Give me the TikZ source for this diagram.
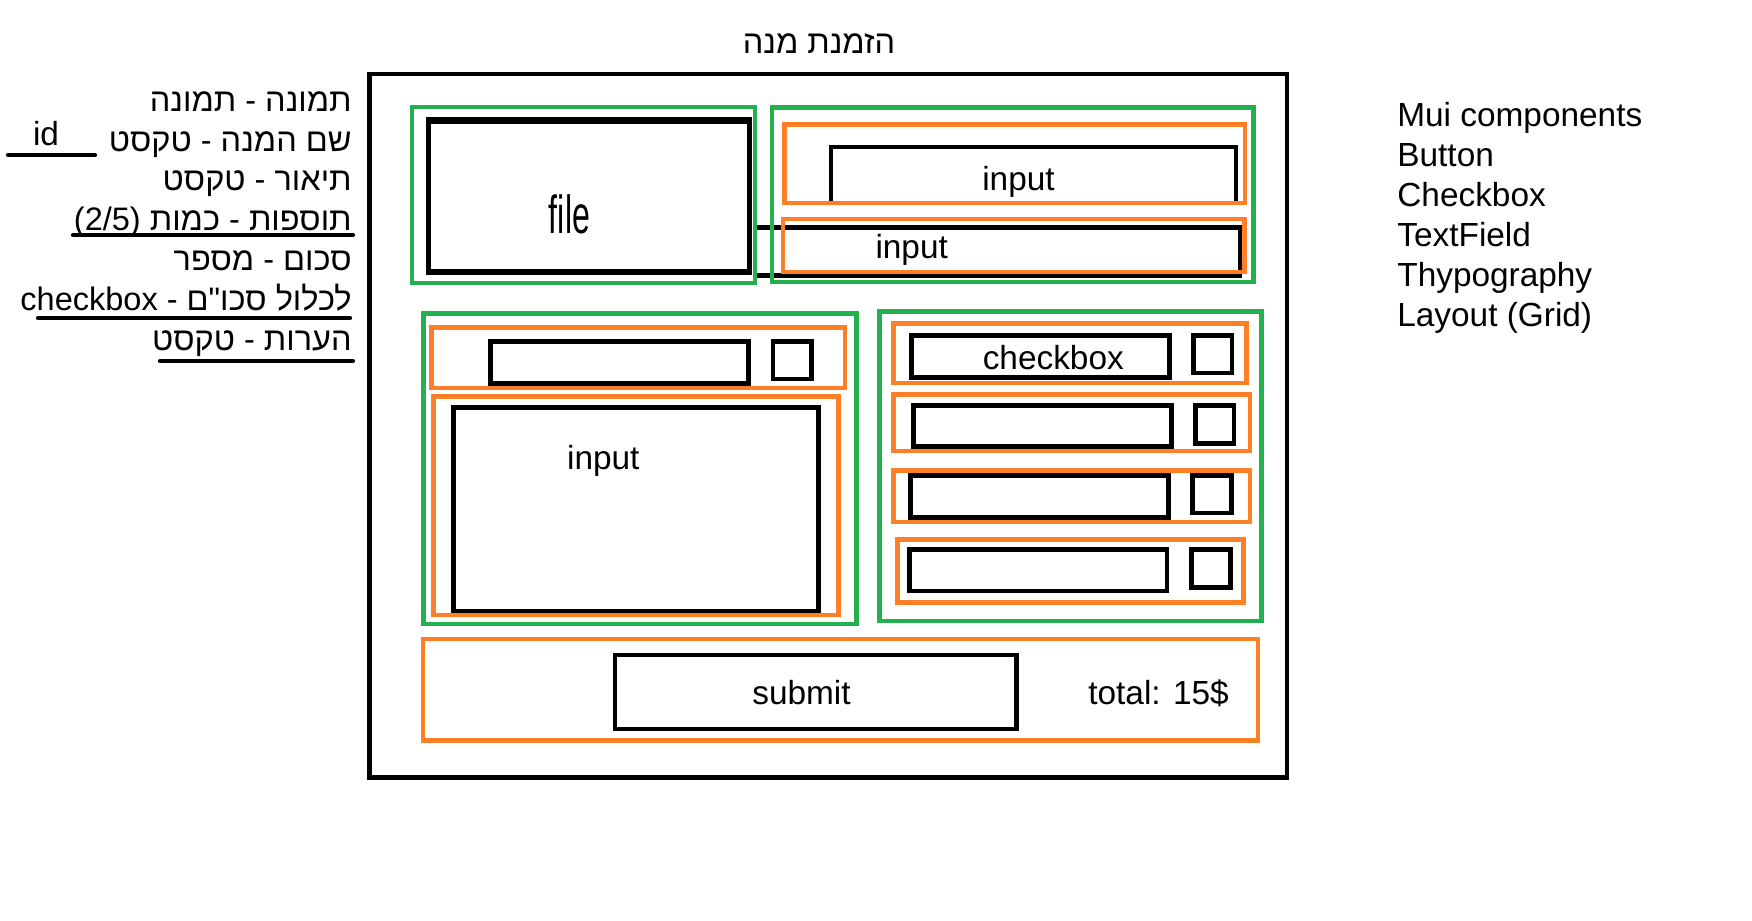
\documentclass[tikz,border=0pt]{standalone}
\usepackage{graphicx}
\usepackage{fontspec}
\setmainfont{Liberation Sans}
\newfontfamily\hebfont[Script=Hebrew]{Liberation Sans}
\TeXXeTstate=1
\definecolor{pgreen}{HTML}{22B14C}
\definecolor{porange}{HTML}{FF7F27}
\tikzset{
  gbox/.style={draw=pgreen, line width=2.67pt},
  obox/.style={draw=porange, line width=2.67pt},
  kbox/.style={draw=black, line width=2.67pt},
  outerbox/.style={draw=black, line width=2.5pt},
  uline/.style={draw=black, line width=2.4pt, line cap=round},
  lbl/.style={font={\fontsize{19}{23}\selectfont}, inner sep=0pt, text=black},
  heb/.style={font={\fontsize{18.5}{23}\selectfont\hebfont}, inner sep=0pt, text=black},
}
\begin{document}
\begin{tikzpicture}[x=0.02cm,y=-0.02cm]
\useasboundingbox[fill=white] (0,0) rectangle (1752,920);

% ---------- title ----------
\node[heb, anchor=base] (title) at (819,53) {\beginR הזמנת מנה\endR};

% ---------- outer frame ----------
\draw[outerbox] (369.5,73.8) rectangle (1287,777.3);

% ---------- black elements ----------
% file
\draw[kbox] (428.3,120.7) rectangle (749.7,272);
\draw[black, line width=3.8pt] (426,120.7) -- (752,120.7);
\draw[black, line width=3.8pt] (426,272) -- (752,272);
% inputs top right
\draw[kbox] (831,147) rectangle (1236,203);
\draw[kbox] (755,227.5) rectangle (1240,275.5);
% left column
\draw[kbox] (490.7,341.7) rectangle (748.3,383.3);
\draw[kbox] (773,341.7) rectangle (811.3,379);
\draw[kbox] (453.3,407.7) rectangle (818.3,611.7);
% right column
\draw[kbox] (911.3,335.7) rectangle (1169.2,377.7);
\draw[kbox] (1193.7,335.7) rectangle (1232,373);
\draw[kbox] (913.3,405.7) rectangle (1171.3,446.3);
\draw[kbox] (1195.3,405.7) rectangle (1234,443.3);
\draw[kbox] (910.7,475.7) rectangle (1168.3,517.3);
\draw[kbox] (1192.7,475.7) rectangle (1231.3,513);
\draw[kbox] (909.3,549.7) rectangle (1167,591);
\draw[kbox] (1191.3,549.7) rectangle (1230.3,587.3);
% submit
\draw[kbox] (615,655) rectangle (1016.5,729);

% ---------- green containers ----------
\draw[gbox] (412,107) rectangle (755,283);
\draw[gbox] (772,107.5) rectangle (1253.5,282);
\draw[gbox] (423.3,313.8) rectangle (856.7,624);
\draw[gbox] (879.8,311.7) rectangle (1261.2,621);

% ---------- orange items ----------
\draw[obox] (784.5,124.5) rectangle (1245,203);
\draw[obox] (783,219) rectangle (1244.5,272);
\draw[obox] (431.5,327.5) rectangle (845,388);
\draw[obox] (433.8,396.7) rectangle (838.3,615);
\draw[obox] (893.7,323.7) rectangle (1246.7,383);
\draw[obox] (893.7,394.7) rectangle (1250,451);
\draw[obox] (893.7,470.7) rectangle (1250,522);
\draw[obox] (897.7,539.7) rectangle (1243.3,602.3);
\draw[obox] (423,639) rectangle (1258,740.5);

% ---------- texts in the form ----------
\node[inner sep=0pt, anchor=base] (filetxt) at (569.5,233)
  {\scalebox{0.6}[1]{\fontsize{30.5}{36}\selectfont file}};
\node[lbl, anchor=base] (inputa) at (1018.5,190.7) {input};
\node[lbl, anchor=base] (inputb) at (911.7,258.3) {input};
\node[lbl, anchor=base] (inputd) at (603.3,469.3) {input};
\node[lbl, anchor=base] (cbtxt) at (1053.3,369) {checkbox};
\node[lbl, anchor=base] (submittxt) at (801.5,704) {submit};
\node[lbl, anchor=base west] (totaltxt) at (1088,704) {total: 15\$};

% ---------- left legend ----------
\node[heb, anchor=base east] (l1) at (352,111) {\beginR תמונה - תמונה\endR};
\node[heb, anchor=base east] (l2) at (352,151) {\beginR שם המנה - טקסט\endR};
\node[heb, anchor=base east] (l3) at (352,190.5) {\beginR תיאור - טקסט\endR};
\node[heb, anchor=base east] (l4) at (352,230) {\beginR תוספות - כמות \beginL(2/5)\endL\endR};
\node[heb, anchor=base east] (l5) at (352,270) {\beginR סכום - מספר\endR};
\node[heb, anchor=base east] (l6) at (352,310) {\beginR לכלול סכו"ם - \beginL checkbox\endL\endR};
\node[heb, anchor=base east] (l7) at (352,350) {\beginR הערות - טקסט\endR};
\node[lbl, anchor=base] (idtxt) at (46,145) {id};

\coordinate (u0a) at (8,155);   \coordinate (u0b) at (95,155);
\coordinate (u4a) at (73,235);  \coordinate (u4b) at (353,235);
\coordinate (u6a) at (38,318);  \coordinate (u6b) at (350,318);
\coordinate (u7a) at (160,361); \coordinate (u7b) at (353,361);
\draw[uline] (u0a) -- (u0b);
\draw[uline] (u4a) -- (u4b);
\draw[uline] (u6a) -- (u6b);
\draw[uline] (u7a) -- (u7b);

% ---------- right legend ----------
\node[lbl, anchor=base west] (r1) at (1397,126) {Mui components};
\node[lbl, anchor=base west] (r2) at (1397,166) {Button};
\node[lbl, anchor=base west] (r3) at (1397,206) {Checkbox};
\node[lbl, anchor=base west] (r4) at (1397,246) {TextField};
\node[lbl, anchor=base west] (r5) at (1397,286) {Thypography};
\node[lbl, anchor=base west] (r6) at (1397,326) {Layout (Grid)};
\end{tikzpicture}
\end{document}
